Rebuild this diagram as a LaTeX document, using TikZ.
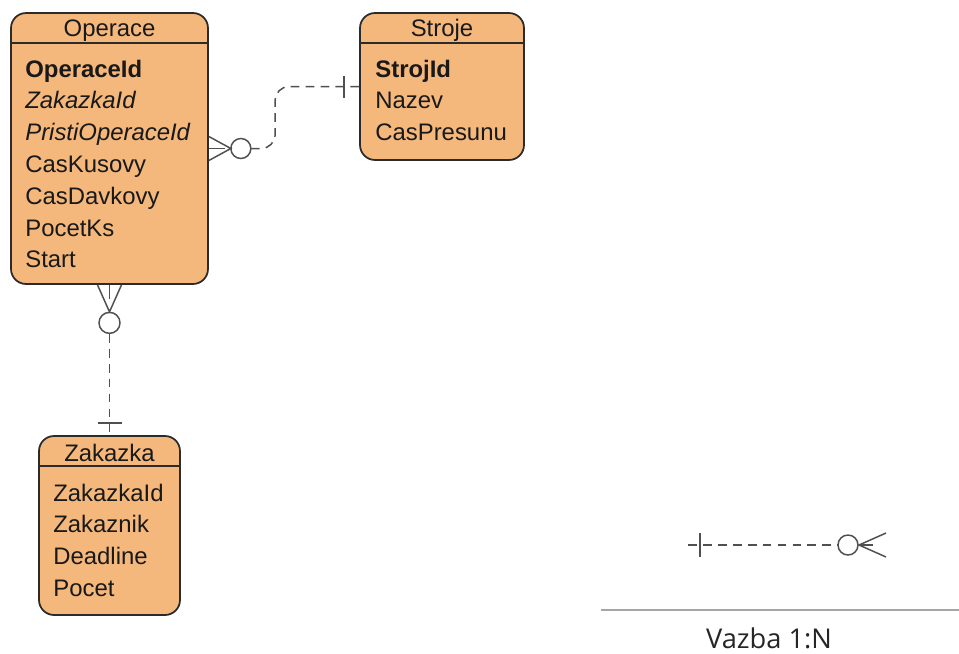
\documentclass[tikz,border=0pt]{standalone}
\usepackage{fontspec}
\setmainfont{Liberation Sans}
\newfontfamily\legendfont{Open Sans}
\usetikzlibrary{calc}
\definecolor{entfill}{HTML}{F4B77C}
\definecolor{entline}{HTML}{2B2B2B}
\definecolor{relline}{HTML}{505050}

\begin{document}
\begin{tikzpicture}[x=0.02cm, y=-0.02cm,
  every node/.style={font=\fontsize{13.6}{16}\selectfont, inner sep=0pt, text=black!90},
  entity/.style={draw=entline, line width=1pt, fill=entfill, rounded corners=0.3cm},
  attr/.style={anchor=base west},
  title/.style={anchor=base},
  rel/.style={draw=relline, line width=0.85pt},
  reldash/.style={dash pattern=on 5pt off 3.5pt}]
  \useasboundingbox (0,0) rectangle (959,653);

  % Operace
  \node[entity, minimum width=3.94cm, minimum height=5.42cm] (operace) at (109.5,148.5) {};
  \node[title] (operaceT) at (109.5,36) {Operace};
  \draw[entline, line width=1pt] ($(operace.north west)+(0,31)$) -- ($(operace.north east)+(0,31)$);
  \foreach \a [count=\i from 0] in {\textbf{OperaceId}, \textit{ZakazkaId}, \textit{PristiOperaceId},
      CasKusovy, CasDavkovy, PocetKs, Start}
    \node[attr] at (25,{77+31.8*\i}) {\a};

  % Stroje
  \node[entity, minimum width=3.28cm, minimum height=2.94cm] (stroje) at (442,86.5) {};
  \node[title] (strojeT) at (442,36) {Stroje};
  \draw[entline, line width=1pt] ($(stroje.north west)+(0,31)$) -- ($(stroje.north east)+(0,31)$);
  \foreach \a [count=\i from 0] in {\textbf{StrojId}, Nazev, CasPresunu}
    \node[attr] at (375,{77+31.8*\i}) {\a};

  % Zakazka
  \node[entity, minimum width=2.82cm, minimum height=3.58cm] (zakazka) at (109.5,525.5) {};
  \node[title] (zakazkaT) at (109.5,461) {Zakazka};
  \draw[entline, line width=1pt] ($(zakazka.north west)+(0,31)$) -- ($(zakazka.north east)+(0,31)$);
  \foreach \a [count=\i from 0] in {ZakazkaId, Zakaznik, Deadline, Pocet}
    \node[attr] at (53,{501+31.8*\i}) {\a};

  % Operace -- Stroje
  \draw[rel] ($(operace.east)+(0,-12)$) -- ($(operace.east)+(22,0)$) -- ($(operace.east)+(0,12)$);
  \draw[rel] (operace.east) -- ++(16,0);
  \draw[rel] ($(operace.east)+(32,0)$) circle[radius=0.2cm];
  \draw[rel, reldash, rounded corners=0.28cm] ($(operace.east)+(42,0)$) -| ($(stroje.west)+(-84,0)$) -- (stroje.west);
  \draw[rel] ($(stroje.west)+(-15,-11)$) -- ++(0,22);

  % Operace -- Zakazka
  \draw[rel] ($(operace.south)+(-12,0)$) -- ($(operace.south)+(0,27)$) -- ($(operace.south)+(12,0)$);
  \draw[rel] (operace.south) -- ++(0,14);
  \draw[rel] ($(operace.south)+(0,38)$) circle[radius=0.21cm];
  \draw[rel, reldash] ($(operace.south)+(0,49)$) -- (zakazka.north);
  \draw[rel] ($(zakazka.north)+(-12,-12)$) -- ++(24,0);

  % Legend
  \coordinate (legL) at (688,545);
  \coordinate (legR) at (886,545);
  \draw[rel, reldash] (legL) -- ($(legR)+(-48,0)$);
  \draw[rel] ($(legL)+(12,-12)$) -- ++(0,24);
  \draw[rel] ($(legR)+(-38,0)$) circle[radius=0.2cm];
  \draw[rel] ($(legR)+(0,-12)$) -- ($(legR)+(-27,0)$) -- ($(legR)+(0,12)$);
  \draw[rel] ($(legR)+(-27,0)$) -- ++(14,0);
  \draw[gray!70, line width=0.7pt] (601,610) -- (959,610);
  \node[font=\legendfont\fontsize{15.5}{18}\selectfont, text=black!85] (legT) at (769,638) {Vazba 1:N};
\end{tikzpicture}
\end{document}
